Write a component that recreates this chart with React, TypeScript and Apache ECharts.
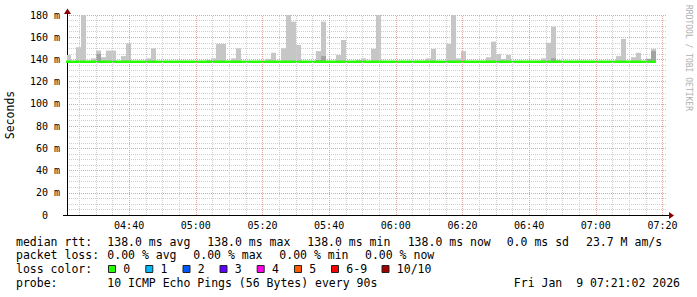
import React, { useEffect, useRef } from "react";
import * as echarts from "echarts";

// ---- data ----
const firstSlot = "04:21:04"; // start of first 90 s step
const stepSeconds = 90;
const viewStart = "04:21:22";
const viewMinutes = 180;
const timeTicks = ["04:40", "05:00", "05:20", "05:40", "06:00", "06:20", "06:40", "07:00", "07:20"];

// top of the smoke (highest ping) per 90 s step, ms
const maxPing = [
  144, 138, 151, 180, 138, 141, 148, 142, 148, 148,
  138, 143, 154.5, 138, 138, 138, 141, 150, 138, 138,
  138, 138, 138, 138, 138, 138, 138, 138, 139.5, 141,
  154, 154, 138, 141, 150, 138, 138, 138, 138, 138,
  140.5, 146, 138, 150, 180, 174, 153, 138, 138, 138,
  147.5, 174, 138, 138, 144, 157.5, 138, 138, 139.5, 141,
  138, 149.5, 180, 138, 138, 138, 138, 138, 138, 138,
  138, 138, 141, 149.5, 138, 138, 154, 180, 141, 147.5,
  138, 138, 138, 138, 142, 156, 145, 140.5, 144, 138,
  138, 138, 138, 138, 138, 141, 155, 169.5, 139.5, 138,
  138, 138, 138, 138, 138, 138, 138, 138, 138, 138,
  143, 158.5, 138, 142, 146, 138, 140.5, 149.5,
];
// top of the denser (darker) smoke layer, ms
const secondPing = [
  138, 138, 138, 138, 138, 138, 145, 138, 138, 138,
  138, 138, 138, 138, 138, 138, 138, 138, 138, 138,
  138, 138, 138, 138, 138, 138, 138, 138, 138, 138,
  138, 138, 138, 138, 138, 138, 138, 138, 138, 138,
  138, 138, 138, 138, 138, 138, 138, 138, 138, 138,
  139.5, 143, 138, 138, 138, 138, 138, 138, 138, 138,
  138, 138, 138, 138, 138, 138, 138, 138, 138, 138,
  138, 138, 138, 138, 138, 138, 138, 138, 138, 138,
  138, 138, 138, 138, 138, 138, 138, 138, 138, 138,
  138, 138, 138, 138, 138, 138, 138, 141, 138, 138,
  138, 138, 138, 138, 138, 138, 138, 138, 138, 138,
  138, 138, 138, 138, 138, 138, 140.5, 147.5,
];
// median rtt per step, ms
const medianRtt = [
  138, 138, 138, 138, 138, 138, 138, 138, 138, 138,
  138, 138, 138, 138, 138, 138, 138, 138, 138, 138,
  138, 138, 138, 138, 138, 138, 138, 138, 138, 138,
  138, 138, 138, 138, 138, 138, 138, 138, 138, 138,
  138, 138, 138, 138, 138, 138, 138, 138, 138, 138,
  138, 138, 138, 138, 138, 138, 138, 138, 138, 138,
  138, 138, 138, 138, 138, 138, 138, 138, 138, 138,
  138, 138, 138, 138, 138, 138, 138, 138, 138, 138,
  138, 138, 138, 138, 138, 138, 138, 138, 138, 138,
  138, 138, 138, 138, 138, 138, 138, 138, 138, 138,
  138, 138, 138, 138, 138, 138, 138, 138, 138, 138,
  138, 138, 138, 138, 138, 138, 138, 138,
];

const medianLine = ["median rtt:", "138.0 ms avg", "138.0 ms max", "138.0 ms min", "138.0 ms now", "0.0 ms sd", "23.7 M am/s"];
const lossLine = ["packet loss:", "0.00 % avg", "0.00 % max", "0.00 % min", "0.00 % now"];
const lossLabels = ["0", "1", "2", "3", "4", "5", "6-9", "10/10"];
const lossColors = ["#26ff00", "#00b8ff", "#0059ff", "#5e00ff", "#ff00e6", "#ff5a00", "#ff0000", "#a10000"];
const probeLine = ["probe:", "10 ICMP Echo Pings (56 Bytes) every 90s"];
const stamp = "Fri Jan  9 07:21:02 2026";
const watermark = "RRDTOOL / TOBI OETIKER";

// ---- layout ----
const W = 697;
const H = 297;
const MONO = "'DejaVu Sans Mono', monospace";
const line1X = [16, 107.3, 207.3, 307.3, 407.7, 506.7, 586];
const line2X = [16, 107.3, 193.3, 279.3, 365];
const boxX = [108, 145.3, 182.5, 219.5, 256.7, 294, 331, 381.5];
const rowY = [241.7, 255.3, 269, 282.7];

const parseClock = (s: string) => {
  const p = s.split(":").map(Number);
  return p[0] * 60 + p[1] + (p[2] || 0) / 60;
};
const fmtClock = (v: number) => {
  const h = Math.floor(v / 60);
  const m = Math.round(v - h * 60);
  return String(h).padStart(2, "0") + ":" + String(m).padStart(2, "0");
};

export default function App() {
  const ref = useRef<HTMLDivElement>(null);
  useEffect(() => {
    const chart = echarts.init(ref.current!, null, { renderer: "svg" });
    const xMin = parseClock(viewStart);
    const xMax = xMin + viewMinutes;
    const t0 = parseClock(firstSlot);
    const step = stepSeconds / 60;
    const tickMin = timeTicks.map(parseClock);

    const smokeData = maxPing.map((mx, k) => [t0 + k * step, t0 + (k + 1) * step, medianRtt[k], mx, secondPing[k]]);
    const medData: number[][] = medianRtt.map((m, k) => [t0 + k * step, m]);
    medData.push([t0 + medianRtt.length * step, medianRtt[medianRtt.length - 1]]);

    const minorX: any[] = [];
    const majorX: any[] = [];
    for (let v = Math.ceil(xMin / 5) * 5; v <= xMax; v += 5) {
      if (v % 20 === 0) majorX.push({ xAxis: v });
      else minorX.push({ xAxis: v });
    }

    const graphics: any[] = [];
    // axis arrows
    graphics.push({ type: "polygon", shape: { points: [[669, 212], [674, 215.5], [669, 219]] }, style: { fill: "#8b0000" }, z: 10 });
    graphics.push({ type: "polygon", shape: { points: [[64, 14], [67.5, 8.5], [71, 14]] }, style: { fill: "#8b0000" }, z: 10 });
    graphics.push({ type: "line", shape: { x1: 67.5, y1: 15, x2: 67.5, y2: 13 }, style: { stroke: "#000", lineWidth: 1 }, z: 10 });
    graphics.push({ type: "line", shape: { x1: 63, y1: 215.5, x2: 669, y2: 215.5 }, style: { stroke: "#000", lineWidth: 1 }, z: 10 });
    // watermark
    graphics.push({
      type: "text", x: 688, y: 5, rotation: -Math.PI / 2,
      style: { text: watermark, font: "8px " + MONO, fill: "#b0b0b0", textAlign: "left", textVerticalAlign: "middle" },
    });
    const txt = (s: string, x: number, y: number, align = "left") => ({
      type: "text", x, y,
      style: { text: s, font: "11.5px " + MONO, fill: "#000", textAlign: align, textVerticalAlign: "middle" },
    });
    medianLine.forEach((s, i) => graphics.push(txt(s, line1X[i], rowY[0])));
    lossLine.forEach((s, i) => graphics.push(txt(s, line2X[i], rowY[1])));
    graphics.push(txt("loss color:", 16, rowY[2]));
    lossLabels.forEach((s, i) => {
      graphics.push({
        type: "rect", shape: { x: boxX[i] + 0.5, y: rowY[2] - 3.5, width: 7, height: 7 },
        style: { fill: lossColors[i], stroke: "#222", lineWidth: 1 },
      });
      graphics.push(txt(s, boxX[i] + 15.3, rowY[2]));
    });
    graphics.push(txt(probeLine[0], 16, rowY[3]));
    graphics.push(txt(probeLine[1], 107.3, rowY[3]));
    graphics.push(txt(stamp, 680, rowY[3], "right"));

    const major = "#e3a3a3";
    const minor = "#cfcfcf";

    chart.setOption({
      animation: false,
      backgroundColor: "#ffffff",
      grid: { left: 67, right: W - 667, top: 15, bottom: H - 215, containLabel: false, outerBoundsMode: "none" },
      xAxis: {
        type: "value", min: xMin, max: xMax,
        axisLine: { show: false },
        axisTick: { show: false },
        splitLine: { show: false },
        axisLabel: {
          customValues: tickMin, formatter: (v: number) => fmtClock(v),
          fontFamily: MONO, fontSize: 10, color: "#000", margin: 5,
        },
      },
      yAxis: {
        type: "value", min: 0, max: 180, interval: 20,
        name: "Seconds", nameLocation: "middle", nameRotate: 90, nameGap: 51,
        nameTextStyle: { fontFamily: MONO, fontSize: 11.5, color: "#000" },
        axisLine: { show: true, lineStyle: { color: "#000", width: 1 } },
        axisTick: { show: false },
        minorTick: { show: false, splitNumber: 4 },
        splitLine: { show: true, lineStyle: { color: major, type: [1, 1], width: 1 } },
        minorSplitLine: { show: true, lineStyle: { color: minor, type: [1, 1], width: 1 } },
        axisLabel: {
          fontFamily: MONO, fontSize: 10, color: "#000", margin: 7,
          formatter: (v: number) => (v === 0 ? "0\u00a0\u00a0" : v + " m"),
        },
      },
      graphic: graphics,
      series: [
        {
          type: "line", z: 1, data: [[xMin, -10]], showSymbol: false, silent: true,
          lineStyle: { width: 0 },
          markLine: {
            silent: true, symbol: ["none", "none"], label: { show: false }, animation: false,
            data: [
              ...minorX.map((d) => ({ ...d, lineStyle: { color: minor, type: [1, 1], width: 1 } })),
              ...majorX.map((d) => ({ ...d, lineStyle: { color: major, type: [1, 1], width: 1 } })),
            ],
          },
        },
        {
          type: "custom", z: 2, clip: true, silent: true,
          encode: { x: [0, 1], y: [2, 3] },
          data: smokeData,
          renderItem: (_p: any, api: any) => {
            const a = api.value(0), b = api.value(1), base = api.value(2), top = api.value(3), dark = api.value(4);
            const children: any[] = [];
            if (top > base) {
              const p = api.coord([a, top]);
              const q = api.coord([b, base]);
              children.push({ type: "rect", shape: { x: p[0], y: p[1], width: q[0] - p[0], height: q[1] - p[1] }, style: { fill: "#c6c6c6" } });
            }
            if (dark > base) {
              const p = api.coord([a, dark]);
              const q = api.coord([b, base]);
              children.push({ type: "rect", shape: { x: p[0], y: p[1], width: q[0] - p[0], height: q[1] - p[1] }, style: { fill: "#a2a2a2" } });
            }
            return { type: "group", children };
          },
        },
        {
          type: "line", z: 3, step: "end", data: medData, showSymbol: false, silent: true,
          lineStyle: { color: lossColors[0], width: 2.5 },
        },
      ],
    });
    return () => chart.dispose();
  }, []);
  return <div ref={ref} style={{ position: "fixed", left: 0, top: 0, width: W, height: H, background: "#fff" }} />;
}
